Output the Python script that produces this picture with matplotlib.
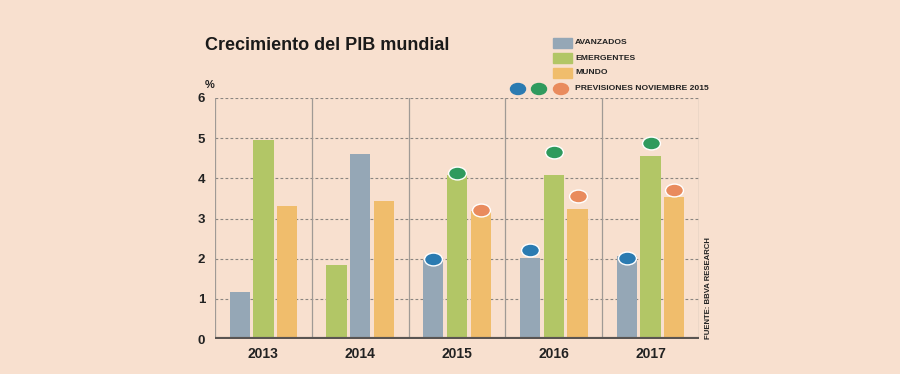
import matplotlib
matplotlib.use("Agg")
import matplotlib.pyplot as plt
import numpy as np
from matplotlib.path import Path
from matplotlib.patches import Rectangle, Ellipse

years = ["2013", "2014", "2015", "2016", "2017"]
# bar values per position (left, middle, right) as drawn in the reference
left_vals = [1.17, 1.83, 1.96, 2.01, 2.06]
mid_vals = [4.95, 4.60, 4.08, 4.08, 4.55]
right_vals = [3.31, 3.43, 3.18, 3.23, 3.53]
# series colours at each position (2014 shows emergentes first)
AVZ = "#95a7b6"
EMG = "#b2c666"
MUN = "#f0bd6c"
left_colors = [AVZ, EMG, AVZ, AVZ, AVZ]
mid_colors = [EMG, AVZ, EMG, EMG, EMG]
# Previsiones noviembre 2015 (2015-2017)
prev_years = ["2015", "2016", "2017"]
prev_avz = [1.99, 2.21, 2.01]
prev_emg = [4.13, 4.65, 4.88]
prev_mun = [3.21, 3.56, 3.71]

BG = "#f8e0cf"
DOT_B = "#2b7bb1"
DOT_G = "#2f9a5d"
DOT_O = "#e98b5d"

FONT = ["Liberation Sans Narrow", "Liberation Sans", "DejaVu Sans"]
plt.rcParams['font.family'] = FONT

fig = plt.figure(figsize=(9, 3.74), dpi=100, facecolor=BG)
ax = fig.add_axes([215/900, 1-339/374, (699-215)/900, (339-98)/374])
ax.set_facecolor(BG)

x = np.arange(len(years))
bw = 0.21
off = 0.245
ax.bar(x - off, left_vals, bw, color=left_colors, zorder=3)
ax.bar(x, mid_vals, bw, color=mid_colors, zorder=3)
ax.bar(x + off, right_vals, bw, color=MUN, zorder=3)

# ellipse marker
circ = Path.unit_circle()
ell = Path(circ.vertices * np.array([1.0, 0.72]), circ.codes)
px = np.array([years.index(y) for y in prev_years])
for xs, vals, c in [(px - off, prev_avz, DOT_B), (px, prev_emg, DOT_G), (px + off, prev_mun, DOT_O)]:
    ax.scatter(xs, vals, s=165, marker=ell, color=c, edgecolors="white", linewidths=1.0, zorder=5)

ax.set_xlim(-0.5, 4.5)
ax.set_ylim(0, 6)
for yv in range(1, 7):
    ax.axhline(yv, color="#8a8580", lw=0.8, ls=(0, (2.5, 2)), zorder=1)
for xv in np.arange(-0.5, 5, 1.0):
    ax.axvline(xv, color="#a09a95", lw=0.9, zorder=1)
ax.axhline(0, color="#5a5552", lw=3, zorder=4)
for s in ax.spines.values():
    s.set_visible(False)
ax.set_yticks(range(0, 7))
ax.set_yticklabels([str(i) for i in range(0, 7)], fontsize=9.5, fontweight="bold", color="#222222")
ax.set_xticks(x)
ax.set_xticklabels(years, fontsize=10, fontweight="bold", color="#222222")
ax.tick_params(length=0, axis="y", pad=7)
ax.tick_params(length=0, axis="x", pad=6)

def ft(xp, yp, s, **kw):
    fig.text(xp/900, 1-yp/374, s, **kw)

ft(205, 45, "Crecimiento del PIB mundial", fontsize=13, fontweight="bold", color="#1a1a1a", va="center", ha="left")
ft(205, 85, "%", fontsize=8, fontweight="bold", color="#222222", va="center", ha="left")
ft(708, 288, "FUENTE: BBVA RESEARCH", fontsize=5.6, fontweight="bold", color="#222222", rotation=90, va="center", ha="center")

# legend
leg = [("AVANZADOS", AVZ, 43), ("EMERGENTES", EMG, 58), ("MUNDO", MUN, 73)]
for lab, c, yp in leg:
    fig.patches.append(Rectangle((553/900, 1-(yp+5)/374), 19/900, 10/374, transform=fig.transFigure, color=c))
    ft(575, yp, lab, fontsize=6.1, fontweight="bold", color="#222222", va="center", ha="left")
for xp, c in [(518, DOT_B), (539, DOT_G), (561, DOT_O)]:
    fig.patches.append(Ellipse((xp/900, 1-89/374), 15/900, 11/374, transform=fig.transFigure, color=c))
ft(575, 89, "PREVISIONES NOVIEMBRE 2015", fontsize=6.1, fontweight="bold", color="#222222", va="center", ha="left")

fig.savefig("out.png", dpi=100, facecolor=BG)
